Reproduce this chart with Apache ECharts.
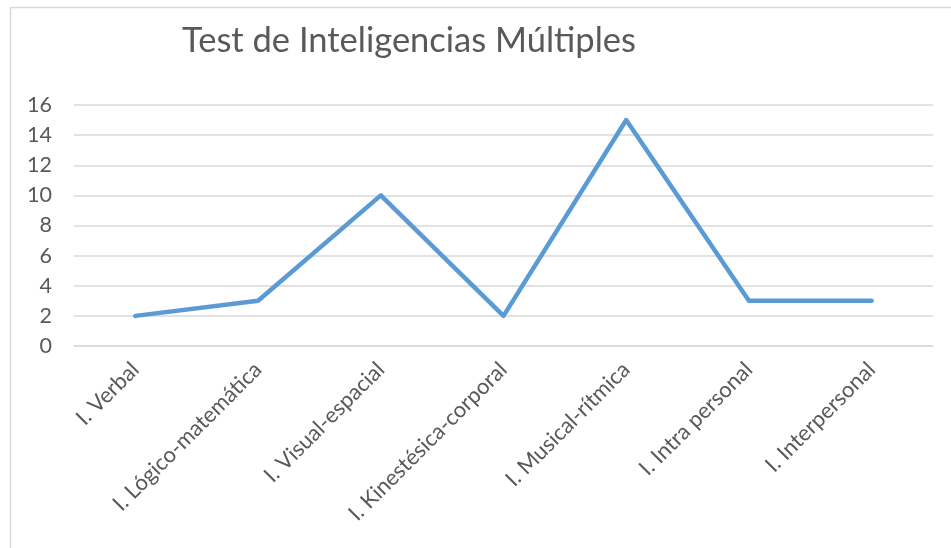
<!DOCTYPE html>
<html>
<head>
<meta charset="utf-8">
<script src="https://cdn.jsdelivr.net/npm/echarts@6/dist/echarts.min.js"></script>
<style>
  html, body { margin: 0; padding: 0; background: #fff; }
  #chart { width: 951px; height: 548px; }
</style>
</head>
<body>
<div id="chart"></div>
<script>
// datos del test
var categorias = ['I. Verbal', 'I. Lógico-matemática', 'I. Visual-espacial', 'I. Kinestésica-corporal', 'I. Musical-rítmica', 'I. Intra personal', 'I. Interpersonal'];
var puntajes = [2, 3, 10, 2, 15, 3, 3];

var chart = echarts.init(document.getElementById('chart'));
var fuente = 'Lato, "Open Sans", sans-serif';

var option = {
  animation: false,
  title: {
    text: 'Test de Inteligencias Múltiples',
    left: 177,
    top: 18,
    textStyle: { color: '#595959', fontSize: 34.5, fontWeight: 'normal', fontFamily: fuente }
  },
  graphic: [{
    type: 'polyline',
    shape: { points: [[10.5, 548], [10.5, 7.5], [951, 7.5]] },
    style: { stroke: '#d9d9d9', lineWidth: 1.5, fill: null }
  }],
  grid: { left: 74, right: 18, top: 105, bottom: 202 },
  xAxis: {
    type: 'category',
    data: categorias,
    boundaryGap: true,
    axisLine: { show: true, lineStyle: { color: '#d9d9d9', width: 1.5 } },
    axisTick: { show: false },
    axisLabel: {
      rotate: 45,
      interval: 0,
      margin: 20,
      color: '#595959',
      fontSize: 22,
      fontFamily: fuente
    }
  },
  yAxis: {
    type: 'value',
    min: 0,
    max: 16,
    interval: 2,
    axisLine: { show: false },
    axisTick: { show: false },
    axisLabel: { color: '#595959', fontSize: 21.5, margin: 22, fontFamily: fuente },
    splitLine: { lineStyle: { color: '#d9d9d9', width: 1.5 } }
  },
  series: [{
    type: 'line',
    data: puntajes,
    showSymbol: false,
    symbol: 'none',
    lineStyle: { color: '#5b9bd5', width: 4.5, cap: 'round', join: 'round' }
  }]
};
chart.setOption(option);
</script>
</body>
</html>
